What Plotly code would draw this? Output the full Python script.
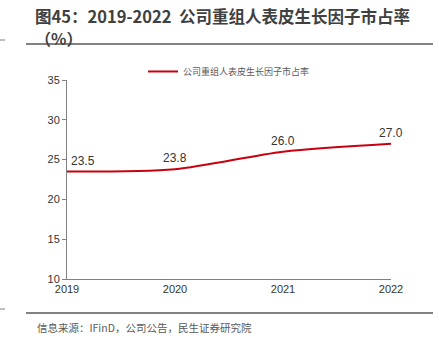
import plotly.graph_objects as go

years = ["2019", "2020", "2021", "2022"]
share = [23.5, 23.8, 26.0, 27.0]
labels = ["23.5", "23.8", "26.0", "27.0"]
yticks = [10, 15, 20, 25, 30, 35]
label_xshift = [16, 0, 0, 0]

font_cn = "Noto Sans CJK SC"

fig = go.Figure()
fig.add_trace(go.Scatter(
    x=list(range(len(years))), y=share, mode="lines",
    line=dict(color="#C8000F", width=2, shape="spline", smoothing=0.8),
    name="公司重组人表皮生长因子市占率",
))

for i, (v, t) in enumerate(zip(share, labels)):
    fig.add_annotation(x=i, y=v, text=t, showarrow=False, yshift=11,
                       xshift=label_xshift[i],
                       font=dict(size=12, color="#333333", family="Liberation Sans"))

fig.update_layout(
    width=439, height=352,
    margin=dict(l=67, r=48, t=80, b=73),
    paper_bgcolor="white", plot_bgcolor="white",
    showlegend=True,
    legend=dict(orientation="h", x=0.5, xanchor="center", y=0.97, yanchor="bottom",
                font=dict(size=9, color="#595959", family=font_cn),
                bgcolor="rgba(0,0,0,0)"),
    xaxis=dict(range=[0, 3], tickvals=list(range(len(years))), ticktext=years,
               showgrid=False, showline=True, linecolor="#808080", linewidth=1,
               ticks="", tickfont=dict(size=11, color="#333333", family="Liberation Sans"),
               zeroline=False, fixedrange=True),
    yaxis=dict(range=[10, 35], tickvals=yticks, showgrid=False, showline=True,
               linecolor="#808080", linewidth=1, ticks="outside", ticklen=4,
               tickcolor="#808080",
               tickfont=dict(size=11, color="#333333", family="Liberation Sans"),
               zeroline=False),
)

fig.add_annotation(xref="paper", yref="paper", x=(34 - 67) / 324, y=(279 - 3) / 199,
                   xanchor="left", yanchor="top", showarrow=False, borderpad=0,
                   text="<b>图45：2019-2022  公司重组人表皮生长因子市占率</b>",
                   font=dict(size=16.5, color="#404040", family=font_cn))
fig.add_annotation(xref="paper", yref="paper", x=(34 - 67) / 324, y=(279 - 25) / 199,
                   xanchor="left", yanchor="top", showarrow=False, borderpad=0,
                   text="<b>（%）</b>",
                   font=dict(size=16, color="#404040", family=font_cn))
fig.add_annotation(xref="paper", yref="paper", x=-32/324, y=-(318 - 279)/199,
                   xanchor="left", yanchor="top", showarrow=False,
                   text="信息来源：IFinD，公司公告，民生证券研究院",
                   font=dict(size=10.5, color="#595959", family=font_cn))

def hline(ypix, x0, x1, color="#595959", w=1.5):
    fig.add_shape(type="line", xref="paper", yref="paper",
                  x0=(x0 - 67) / 324, x1=(x1 - 67) / 324,
                  y0=(279 - ypix) / 199, y1=(279 - ypix) / 199,
                  line=dict(color=color, width=w))

hline(44, 26, 433)
hline(313, 26, 433)
hline(40, 0, 5, "#808080", 1)
hline(309, 0, 5, "#808080", 1)

fig.write_html("out.html")
